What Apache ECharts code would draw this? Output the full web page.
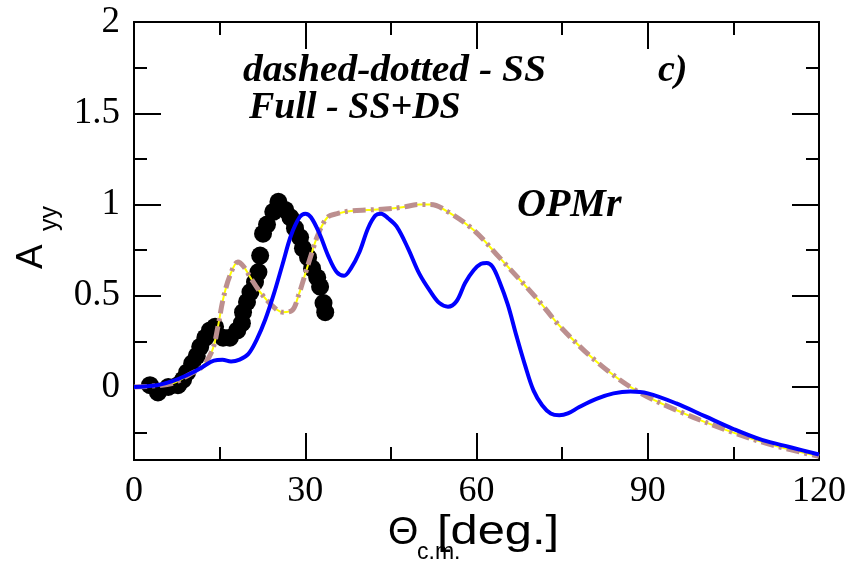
<!DOCTYPE html>
<html>
<head>
<meta charset="utf-8">
<script src="https://cdn.jsdelivr.net/npm/echarts@6.0.0/dist/echarts.min.js"></script>
<style>
  html, body { margin: 0; padding: 0; background: #fff; }
  #chart { width: 854px; height: 562px; }
</style>
</head>
<body>
<div id="chart"></div>
<script>
// Single scattering (SS) calculation
const ssAngle = [0, 3, 6.8, 9.8, 11.9, 13.7, 14.7, 15.6, 16.8, 18.2, 19.2, 20.4, 22.1, 24.4, 26.1, 27.7, 28.8, 30, 31.2, 32.3, 33.9, 35.6, 38, 41, 44, 47, 50, 52, 55, 59.5, 64, 70.7, 74.7, 81, 88, 96, 105, 112, 120];
const ssAyy = [0, 0.005, 0.02, 0.07, 0.11, 0.2, 0.33, 0.48, 0.61, 0.685, 0.66, 0.6, 0.52, 0.44, 0.41, 0.42, 0.5, 0.62, 0.74, 0.84, 0.93, 0.95, 0.965, 0.97, 0.975, 0.985, 1.0, 1.0, 0.96, 0.86, 0.71, 0.48, 0.33, 0.14, -0.02, -0.14, -0.25, -0.32, -0.38];

// Single + double scattering (SS+DS) calculation
const fullAngle = [0, 4, 7, 10, 12, 14, 15.5, 17, 18.5, 20, 21.5, 23, 24.5, 26, 27.5, 29, 30, 31, 32.5, 34, 35.5, 36.8, 38, 39.5, 41, 42.3, 43.3, 44.5, 46, 48, 50, 52, 53.5, 55, 56.5, 58, 59.5, 60.8, 61.8, 62.8, 64, 65.5, 67, 68.5, 70, 71.5, 73, 74.5, 76, 78, 81, 84, 87, 90, 95, 100, 105, 110, 115, 120];
const fullAyy = [0, 0.01, 0.035, 0.075, 0.11, 0.145, 0.15, 0.14, 0.15, 0.18, 0.26, 0.37, 0.51, 0.67, 0.83, 0.93, 0.95, 0.93, 0.84, 0.72, 0.63, 0.61, 0.65, 0.74, 0.87, 0.94, 0.95, 0.925, 0.88, 0.76, 0.62, 0.52, 0.46, 0.44, 0.47, 0.57, 0.64, 0.675, 0.68, 0.66, 0.58, 0.45, 0.28, 0.12, -0.02, -0.1, -0.145, -0.155, -0.145, -0.11, -0.065, -0.035, -0.025, -0.035, -0.09, -0.16, -0.23, -0.29, -0.33, -0.37];

// Measured analyzing power
const expAngle = [2.8, 4.2, 6.0, 7.7, 8.6, 9.3, 10.2, 11.0, 11.6, 12.5, 13.3, 14.2, 15.6, 16.8, 18.1, 18.9, 19.1, 19.8, 20.4, 21.2, 21.8, 22.1, 22.6, 23.3, 24.4, 25.3, 26.5, 27.4, 28.2, 29.1, 29.6, 30.5, 31.2, 32.1, 32.6, 33.2, 33.5];
const expAyy = [0.01, -0.03, 0.0, 0.01, 0.04, 0.08, 0.13, 0.17, 0.22, 0.27, 0.31, 0.33, 0.27, 0.27, 0.31, 0.35, 0.41, 0.466, 0.52, 0.575, 0.63, 0.72, 0.84, 0.89, 0.96, 1.015, 0.97, 0.93, 0.87, 0.82, 0.76, 0.71, 0.65, 0.60, 0.55, 0.46, 0.41];

// Axis ticks
const yMajorTicks = [0, 0.5, 1, 1.5, 2];
const yMinorTicks = [-0.25, 0.25, 0.75, 1.25, 1.75];

const zip = (a, b) => a.map((v, i) => [v, b[i]]);

const black = '#000';
const serif = '"Liberation Serif", "Times New Roman", serif';
const sans = '"Liberation Sans", Arial, sans-serif';

const axisLine = { show: true, onZero: false, lineStyle: { color: black, width: 2 } };
const tickLine = { color: black, width: 2 };

function yAxisDef(position, values, len, withLabels) {
  return {
    type: 'value', position: position, min: -0.4, max: 2,
    axisLine: axisLine,
    axisTick: { show: true, inside: true, length: len, customValues: values, lineStyle: tickLine },
    axisLabel: withLabels
      ? { show: true, customValues: values, margin: 14, color: black, fontFamily: serif, fontSize: 37 }
      : { show: false },
    splitLine: { show: false }
  };
}

function xAxisDef(position, withLabels) {
  return {
    type: 'value', position: position, min: 0, max: 120, interval: 30,
    axisLine: axisLine,
    axisTick: { show: true, inside: true, length: 27, lineStyle: tickLine },
    minorTick: { show: true, splitNumber: 2, length: 13, lineStyle: tickLine },
    axisLabel: withLabels
      ? { show: true, margin: 14, color: black, fontFamily: serif, fontSize: 36 }
      : { show: false },
    splitLine: { show: false },
    minorSplitLine: { show: false }
  };
}

const chart = echarts.init(document.getElementById('chart'), null, { renderer: 'canvas' });

const noteFont = 'italic bold 38px ' + serif;

chart.setOption({
  animation: false,
  backgroundColor: '#fff',
  grid: { left: 134, right: 35, top: 22, bottom: 102, containLabel: false },
  xAxis: [xAxisDef('bottom', true), xAxisDef('top', false)],
  yAxis: [
    yAxisDef('left', yMajorTicks, 27, true),
    yAxisDef('left', yMinorTicks, 13, false),
    yAxisDef('right', yMajorTicks, 27, false),
    yAxisDef('right', yMinorTicks, 13, false)
  ],
  series: [
    {
      name: 'exp', type: 'scatter', data: zip(expAngle, expAyy),
      symbol: 'circle', symbolSize: 18, itemStyle: { color: black, opacity: 1 }, z: 1
    },
    {
      name: 'SS core', type: 'line', data: zip(ssAngle, ssAyy), smooth: 0.35,
      showSymbol: false, lineStyle: { color: '#ffff00', width: 2 }, z: 2
    },
    {
      name: 'SS', type: 'line', data: zip(ssAngle, ssAyy), smooth: 0.35,
      showSymbol: false, lineStyle: { color: '#bc8f8f', width: 5, type: [13, 5, 3, 5] }, z: 3
    },
    {
      name: 'SS+DS', type: 'line', data: zip(fullAngle, fullAyy), smooth: 0.35,
      showSymbol: false, lineStyle: { color: '#0000ff', width: 4 }, z: 4
    }
  ],
  graphic: [
    { type: 'text', x: 243, y: 52, scaleX: 1.04, style: { text: 'dashed-dotted - SS', font: noteFont, fill: black, verticalAlign: 'top' } },
    { type: 'text', x: 249, y: 89, style: { text: 'Full - SS+DS', font: noteFont, fill: black, verticalAlign: 'top' } },
    { type: 'text', x: 658, y: 52, style: { text: 'c)', font: noteFont, fill: black, verticalAlign: 'top' } },
    { type: 'text', x: 517, y: 186, style: { text: 'OPMr', font: 'italic bold 40px ' + serif, fill: black, verticalAlign: 'top' } },
    // y-axis title A_yy (rotated)
    { type: 'text', x: 13, y: 269, rotation: Math.PI / 2, style: { text: 'A', font: '37px ' + sans, fill: black, verticalAlign: 'top', align: 'left' } },
    { type: 'text', x: 38, y: 231, rotation: Math.PI / 2, style: { text: 'yy', font: '25px ' + sans, fill: black, verticalAlign: 'top', align: 'left' } },
    // x-axis title Θ_c.m.[deg.]
    { type: 'text', x: 388, y: 514, style: { text: 'Θ', font: '39px ' + sans, fill: black, verticalAlign: 'top' } },
    { type: 'text', x: 417, y: 541, style: { text: 'c.m.', font: '23px ' + sans, fill: black, verticalAlign: 'top' } },
    { type: 'text', x: 437, y: 513, scaleX: 1.22, style: { text: '[deg.]', font: '40px ' + sans, fill: black, verticalAlign: 'top' } }
  ]
});
</script>
</body>
</html>
